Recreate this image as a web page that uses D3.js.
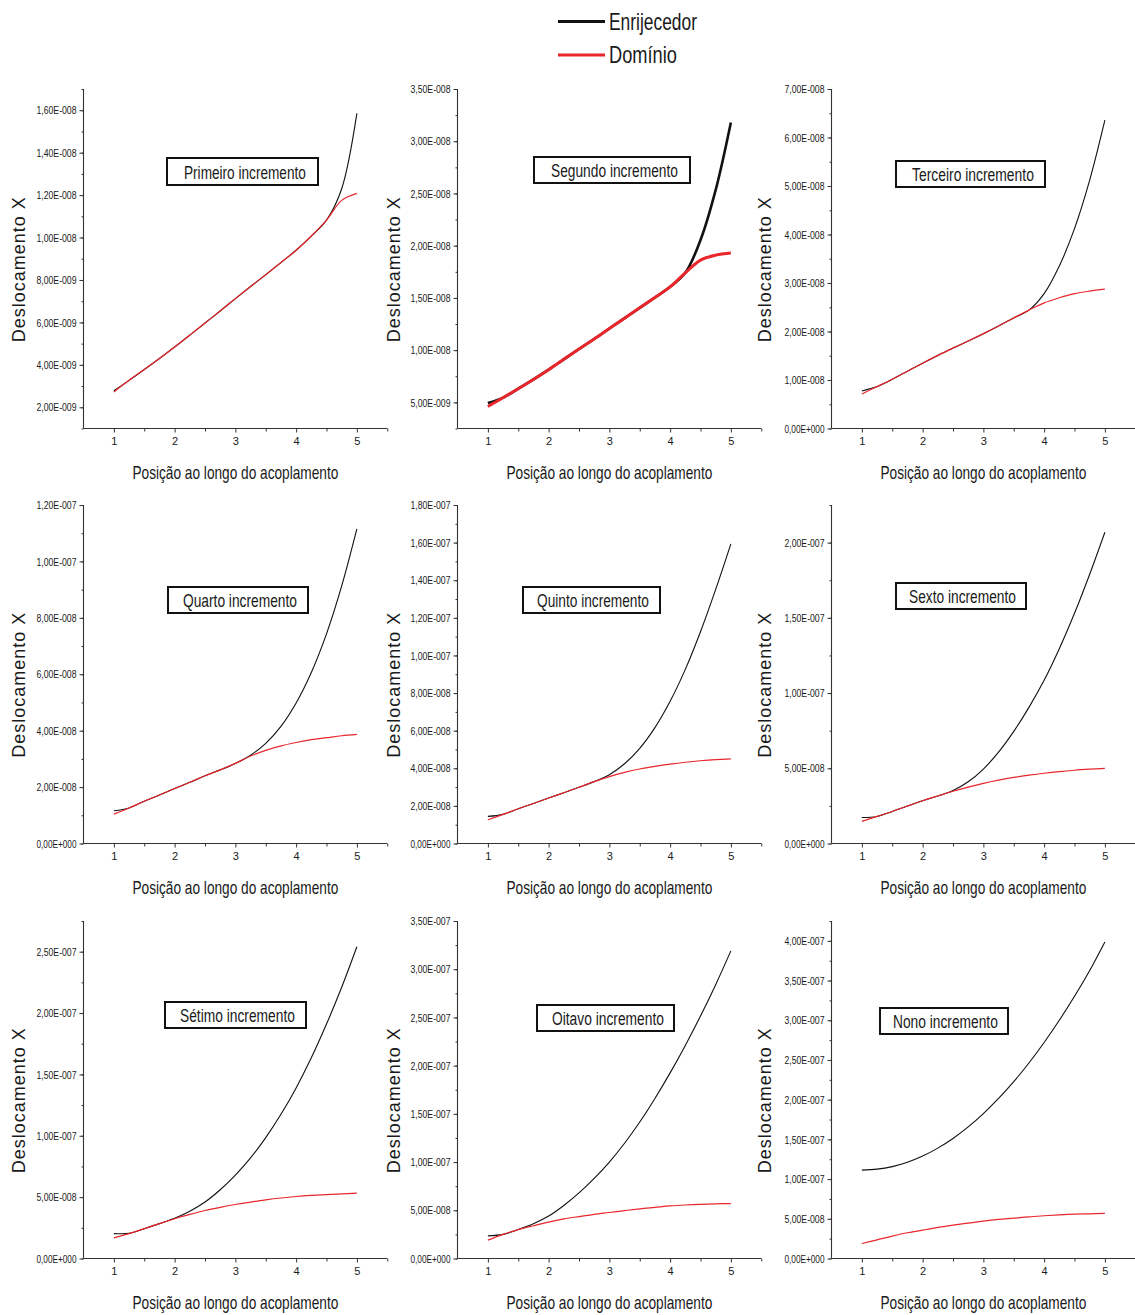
<!DOCTYPE html>
<html>
<head>
<meta charset="utf-8">
<script src="https://cdn.jsdelivr.net/npm/d3@7"></script>
<style>
  html, body { margin: 0; padding: 0; background: #fff; }
  svg { display: block; }
  text { font-family: "Liberation Sans Narrow", "Liberation Sans", Arial, sans-serif; fill: #1a1a1a; }
</style>
</head>
<body>
<svg id="chart" width="1135" height="1315"></svg>
<script>
// Sampling positions along the coupling (x axis)
const positions = [1, 1.25, 1.5, 1.75, 2, 2.25, 2.5, 2.75, 3, 3.25, 3.5, 3.75, 4, 4.25, 4.5, 4.75, 5];

// Displacement X, in units of 1e-8 (Enrijecedor = stiffener, Domínio = domain)
const enrijecedor1 = [0.278, 0.327, 0.378, 0.430, 0.484, 0.540, 0.597, 0.654, 0.712, 0.769, 0.825, 0.882, 0.940, 1.007, 1.082, 1.230, 1.585];
const dominio1     = [0.272, 0.327, 0.378, 0.430, 0.484, 0.540, 0.597, 0.654, 0.712, 0.769, 0.825, 0.882, 0.940, 1.007, 1.082, 1.175, 1.208];

const enrijecedor2 = [0.493, 0.545, 0.631, 0.720, 0.813, 0.912, 1.011, 1.107, 1.207, 1.306, 1.405, 1.504, 1.606, 1.740, 2.054, 2.534, 3.180];
const dominio2     = [0.461, 0.545, 0.631, 0.720, 0.813, 0.912, 1.011, 1.107, 1.207, 1.306, 1.405, 1.504, 1.606, 1.740, 1.862, 1.910, 1.929];

const enrijecedor3 = [0.775, 0.864, 1.016, 1.182, 1.347, 1.507, 1.658, 1.804, 1.956, 2.115, 2.280, 2.440, 2.780, 3.350, 4.120, 5.120, 6.356];
const dominio3     = [0.713, 0.864, 1.016, 1.182, 1.347, 1.507, 1.658, 1.804, 1.956, 2.115, 2.280, 2.440, 2.590, 2.695, 2.780, 2.834, 2.875];

const enrijecedor4 = [1.16, 1.26, 1.50, 1.72, 1.95, 2.17, 2.40, 2.61, 2.84, 3.13, 3.55, 4.15, 4.98, 6.06, 7.43, 9.13, 11.15];
const dominio4     = [1.04, 1.26, 1.50, 1.72, 1.95, 2.17, 2.40, 2.61, 2.84, 3.10, 3.30, 3.46, 3.58, 3.68, 3.75, 3.82, 3.87];

const enrijecedor5 = [1.44, 1.55, 1.85, 2.13, 2.42, 2.70, 2.99, 3.29, 3.66, 4.24, 5.06, 6.16, 7.56, 9.26, 11.26, 13.51, 15.93];
const dominio5     = [1.26, 1.55, 1.85, 2.13, 2.42, 2.70, 2.99, 3.29, 3.56, 3.78, 3.96, 4.10, 4.22, 4.32, 4.40, 4.46, 4.50];

const enrijecedor6 = [1.73, 1.80, 2.13, 2.49, 2.84, 3.16, 3.52, 4.10, 4.95, 6.07, 7.45, 9.05, 10.85, 12.95, 15.30, 17.90, 20.69];
const dominio6     = [1.47, 1.80, 2.13, 2.49, 2.84, 3.16, 3.47, 3.75, 4.00, 4.21, 4.39, 4.54, 4.67, 4.78, 4.87, 4.94, 5.00];

const enrijecedor7 = [2.03, 2.05, 2.43, 2.84, 3.28, 3.85, 4.60, 5.60, 6.80, 8.20, 9.85, 11.75, 13.90, 16.35, 19.10, 22.10, 25.40];
const dominio7     = [1.68, 2.03, 2.43, 2.84, 3.24, 3.59, 3.91, 4.17, 4.40, 4.60, 4.78, 4.93, 5.05, 5.14, 5.21, 5.27, 5.32];

const enrijecedor8 = [2.35, 2.50, 3.00, 3.60, 4.40, 5.50, 6.80, 8.30, 10.00, 11.95, 14.15, 16.60, 19.25, 22.10, 25.15, 28.40, 31.90];
const dominio8     = [1.90, 2.50, 3.00, 3.40, 3.78, 4.10, 4.35, 4.58, 4.77, 4.97, 5.15, 5.30, 5.45, 5.55, 5.62, 5.67, 5.70];

const enrijecedor9 = [11.13, 11.25, 11.57, 12.12, 12.90, 13.90, 15.12, 16.57, 18.25, 20.15, 22.27, 24.62, 27.20, 30.00, 33.02, 36.27, 39.87];
const dominio9     = [1.89, 2.35, 2.82, 3.24, 3.57, 3.91, 4.20, 4.45, 4.71, 4.92, 5.08, 5.25, 5.38, 5.50, 5.59, 5.63, 5.67];

const UNIT = 1e-8;

const panelTitles = [
  "Primeiro incremento", "Segundo incremento", "Terceiro incremento",
  "Quarto incremento", "Quinto incremento", "Sexto incremento",
  "Sétimo incremento", "Oitavo incremento", "Nono incremento"
];

// Y axis extent and tick steps per panel (units of 1e-8)
const yDomains    = [[0.1, 1.7], [0.25, 3.5], [0, 7], [0, 12], [0, 18], [0, 22.5], [0, 27.5], [0, 35], [0, 42.5]];
const yMajorSteps = [0.2, 0.5, 1, 2, 2, 5, 5, 5, 5];
const yMinorSteps = [0.1, 0.25, 0.5, 1, 1, 2.5, 2.5, 2.5, 2.5];
const xTickLabels = ["1", "2", "3", "4", "5"];

const seriesNames = ["Enrijecedor", "Domínio"];
const seriesColors = ["#111111", "#e8262b"];

const stiffener = [enrijecedor1, enrijecedor2, enrijecedor3, enrijecedor4, enrijecedor5, enrijecedor6, enrijecedor7, enrijecedor8, enrijecedor9];
const domain    = [dominio1, dominio2, dominio3, dominio4, dominio5, dominio6, dominio7, dominio8, dominio9];

// ---- layout ----
const colAxisX = [83.5, 457.5, 831.5];
const rowTop = [89, 505, 921];
const rowBottom = [428.5, 843.5, 1258.5];
const xSpan = 303.75;
const yTitleX = [19, 394, 765];

// annotation boxes: [x0, y0, x1, y1, textX, textW]
const boxes = [
  [167, 158, 318, 185, 184, 122],
  [534, 157, 690, 183, 551, 127],
  [896, 161, 1045, 187, 912, 122],
  [168, 587, 308, 613, 183, 114],
  [523, 587, 660, 613, 537, 112],
  [896, 583, 1026, 609, 909, 107],
  [165, 1002, 306, 1028, 180, 115],
  [537, 1005, 674, 1031, 552, 112],
  [880, 1008, 1008, 1034, 893, 105]
];

function fmtTick(v) {
  const s = (v * UNIT).toExponential(2);          // e.g. "1.60e-8"
  const [m, e] = s.split("e");
  const sign = e[0] === "-" ? "-" : "+";
  const ex = String(Math.abs(parseInt(e, 10))).padStart(3, "0");
  return m.replace(".", ",") + "E" + sign + ex;
}

// Condensed-looking text: draw at natural width, then squeeze horizontally to a target width
function squeezedText(parent, str, cx, baseline, size, width, anchor) {
  const holder = parent.append("g");
  const t = holder.append("text")
    .attr("x", 0).attr("y", 0)
    .attr("font-size", size)
    .attr("text-anchor", anchor)
    .text(str);
  const natural = t.node().getComputedTextLength();
  const sx = Math.min(1, width / natural);
  holder.attr("transform", `translate(${cx},${baseline}) scale(${sx},1)`);
  return holder;
}

const svg = d3.select("#chart");

// ---- legend ----
const legend = svg.append("g");
seriesNames.forEach((name, i) => {
  const y = [21.5, 55][i];
  legend.append("line")
    .attr("x1", 558).attr("x2", 605).attr("y1", y).attr("y2", y)
    .attr("stroke", seriesColors[i]).attr("stroke-width", 3);
  squeezedText(legend, name, 609, y + 8, 23, [88, 68][i], "start");
});

// ---- panels ----
for (let p = 0; p < 9; p++) {
  const col = p % 3, row = Math.floor(p / 3);
  const ax = colAxisX[col], top = rowTop[row], bottom = rowBottom[row];

  const x = d3.scaleLinear().domain([0.5, 5.5]).range([ax, ax + xSpan]);
  const y = d3.scaleLinear().domain(yDomains[p]).range([bottom, top]);

  const g = svg.append("g");

  // minor / major y ticks
  const [y0, y1] = yDomains[p];
  const eps = 1e-9;
  const minorY = d3.range(Math.ceil(y0 / yMinorSteps[p] - eps) * yMinorSteps[p], y1 + eps, yMinorSteps[p]);
  const majorY = d3.range(Math.ceil(y0 / yMajorSteps[p] - eps) * yMajorSteps[p], y1 + eps, yMajorSteps[p]);

  const yAxis = d3.axisLeft(y).tickValues(majorY).tickSize(4).tickPadding(3).tickFormat(fmtTick);
  const yMinor = d3.axisLeft(y).tickValues(minorY).tickSize(2).tickFormat("");
  const xAxis = d3.axisBottom(x).tickValues([1, 2, 3, 4, 5]).tickSize(4).tickPadding(5)
    .tickFormat((d, i) => xTickLabels[i]);
  const xMinor = d3.axisBottom(x).tickValues([1.5, 2.5, 3.5, 4.5, 5.5]).tickSize(3).tickFormat("");

  const gyMinor = g.append("g").attr("transform", `translate(${ax},0)`).call(yMinor);
  const gy = g.append("g").attr("transform", `translate(${ax},0)`).call(yAxis);
  const gxMinor = g.append("g").attr("transform", `translate(0,${bottom})`).call(xMinor);
  const gx = g.append("g").attr("transform", `translate(0,${bottom})`).call(xAxis);

  [gyMinor, gy, gxMinor, gx].forEach(a => {
    a.select(".domain").attr("stroke", "#333").attr("stroke-width", 1.1);
    a.selectAll(".tick line").attr("stroke", "#333");
  });
  gyMinor.select(".domain").remove();
  gxMinor.select(".domain").remove();
  gy.select(".domain").attr("d", `M0,${top}V${bottom}`);
  gx.select(".domain").attr("d", `M${ax},0H${ax + xSpan}`);

  gy.selectAll(".tick text")
    .attr("font-size", 11.5)
    .attr("fill", "#222")
    .attr("textLength", 40).attr("lengthAdjust", "spacingAndGlyphs");
  gx.selectAll(".tick text")
    .attr("font-size", 11)
    .attr("fill", "#222");

  // axis titles
  squeezedText(g, "Posição ao longo do acoplamento", ax + xSpan / 2, bottom + 50, 18, 206, "middle");

  const yc = (top + bottom) / 2 + 11;
  g.append("text")
    .attr("transform", `translate(${yTitleX[col] + 6},${yc}) rotate(-90)`)
    .attr("text-anchor", "middle")
    .attr("font-family", '"Liberation Sans", Arial, sans-serif')
    .attr("font-size", 18)
    .attr("textLength", 145).attr("lengthAdjust", "spacing")
    .text("Deslocamento X");

  // curves
  const thick = p === 1;
  const line = d3.line()
    .x((d, i) => x(positions[i]))
    .y(d => y(d))
    .curve(d3.curveCatmullRom.alpha(0.5));

  g.append("path").datum(stiffener[p])
    .attr("d", line).attr("fill", "none")
    .attr("stroke", seriesColors[0]).attr("stroke-width", thick ? 2.6 : 1.1);
  g.append("path").datum(domain[p])
    .attr("d", line).attr("fill", "none")
    .attr("stroke", seriesColors[1]).attr("stroke-width", thick ? 3 : 1.2);

  // annotation box
  const b = boxes[p];
  g.append("rect")
    .attr("x", b[0]).attr("y", b[1]).attr("width", b[2] - b[0]).attr("height", b[3] - b[1])
    .attr("fill", "#fff").attr("stroke", "#111").attr("stroke-width", 2);
  squeezedText(g, panelTitles[p], b[4], b[3] - 6, 19, b[5], "start");
}
</script>
</body>
</html>
